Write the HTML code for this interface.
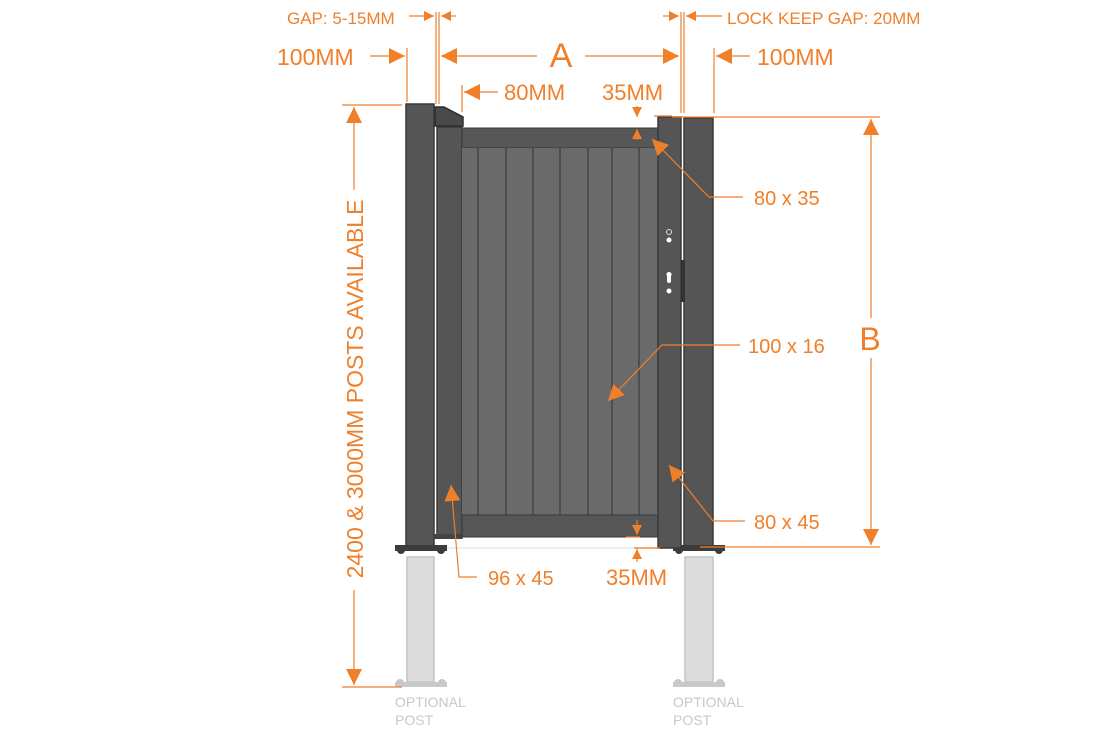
<!DOCTYPE html>
<html><head><meta charset="utf-8"><style>
html,body{margin:0;padding:0;background:#fff;}
svg{display:block;}
text{font-family:"Liberation Sans",sans-serif;fill:#f07f2a;}
</style></head><body>
<svg width="1120" height="730" viewBox="0 0 1120 730" xmlns="http://www.w3.org/2000/svg">
<defs>
<marker id="ar" viewBox="0 0 10 10" refX="10" refY="5" markerWidth="10" markerHeight="10" orient="auto-start-reverse" markerUnits="userSpaceOnUse"><path d="M0,0 L10,5 L0,10 z" fill="#f07f2a"/></marker>
<marker id="ar2" viewBox="0 0 10 10" refX="10" refY="5" markerWidth="16" markerHeight="16" orient="auto-start-reverse" markerUnits="userSpaceOnUse"><path d="M0,0 L10,5 L0,10 z" fill="#f07f2a"/></marker>
</defs>
<g fill="#dcdcdc" stroke="#c4c4c4" stroke-width="1.5">
<rect x="407" y="557" width="27" height="125"/>
<rect x="685" y="557" width="28" height="125"/>
</g>
<g fill="#c8c8c8">
<rect x="395" y="682" width="52" height="5"/><circle cx="400" cy="683" r="4"/><circle cx="442" cy="683" r="4"/>
<rect x="673" y="682" width="52" height="5"/><circle cx="678" cy="683" r="4"/><circle cx="720" cy="683" r="4"/>
</g>
<line x1="440" y1="548" x2="680" y2="548" stroke="#eee" stroke-width="2"/>
<g fill="#555" stroke="#3a3a3a" stroke-width="1.5">
<rect x="406" y="104" width="28" height="443"/>
<rect x="684" y="118" width="29" height="429"/>
</g>
<g fill="#3c3c3c">
<rect x="395" y="545" width="52" height="6"/><circle cx="401" cy="550" r="4"/><circle cx="441" cy="550" r="4"/>
<rect x="673" y="545" width="52" height="6"/><circle cx="679" cy="550" r="4"/><circle cx="719" cy="550" r="4"/>
</g>
<rect x="437" y="127" width="25" height="411" fill="#555" stroke="#3a3a3a" stroke-width="1.5"/>
<rect x="434" y="534" width="28" height="5" fill="#444"/>
<path d="M435,107 L444,107 L463,117 L463,126 L435,126 Z" fill="#4a4a4a" stroke="#2e2e2e" stroke-width="1.5"/>
<rect x="462" y="128" width="196" height="20" fill="#575757" stroke="#3a3a3a" stroke-width="1"/>
<rect x="462" y="148" width="196" height="367" fill="#6a6a6a"/>
<g stroke="#454545" stroke-width="1.5">
<line x1="478" y1="148" x2="478" y2="515"/><line x1="506" y1="148" x2="506" y2="515"/><line x1="533" y1="148" x2="533" y2="515"/><line x1="560" y1="148" x2="560" y2="515"/><line x1="588" y1="148" x2="588" y2="515"/><line x1="612" y1="148" x2="612" y2="515"/><line x1="639" y1="148" x2="639" y2="515"/>
</g>
<rect x="462" y="515" width="196" height="22" fill="#575757" stroke="#3a3a3a" stroke-width="1"/>
<rect x="658" y="117" width="23" height="431" fill="#555" stroke="#3a3a3a" stroke-width="1.5"/>
<rect x="681" y="260" width="4" height="42" fill="#333"/>
<circle cx="669" cy="232" r="2.5" fill="none" stroke="#ddd" stroke-width="1"/>
<circle cx="669" cy="240" r="2.5" fill="#fff"/>
<path d="M667,276 a2.5,2.5 0 1 1 4,0 l0,5 a2,2 0 0 1 -4,0 z" fill="#fff"/>
<circle cx="669" cy="291" r="2.5" fill="#fff"/>

<g stroke="#f07f2a" stroke-width="1.2" fill="none">
<line x1="407" y1="48" x2="407" y2="102"/>
<line x1="436" y1="12" x2="436" y2="104"/>
<line x1="439" y1="12" x2="439" y2="104"/>
<line x1="462" y1="85" x2="462" y2="112"/>
<line x1="681" y1="12" x2="681" y2="113"/>
<line x1="684" y1="12" x2="684" y2="113"/>
<line x1="714" y1="48" x2="714" y2="113"/>
<line x1="342" y1="105" x2="402" y2="105"/>
<line x1="342" y1="687" x2="402" y2="687"/>
<line x1="672" y1="117" x2="880" y2="117"/>
<line x1="700" y1="547" x2="880" y2="547"/>
<line x1="654" y1="116" x2="672" y2="116"/>
<line x1="626" y1="537" x2="640" y2="537"/>
<line x1="634" y1="548" x2="660" y2="548"/>
<line x1="409" y1="16" x2="434" y2="16" marker-end="url(#ar)"/>
<line x1="456" y1="16" x2="441" y2="16" marker-end="url(#ar)"/>
<line x1="663" y1="16" x2="679" y2="16" marker-end="url(#ar)"/>
<line x1="722" y1="16" x2="686" y2="16" marker-end="url(#ar)"/>
<line x1="370" y1="56" x2="405" y2="56" marker-end="url(#ar2)"/>
<line x1="750" y1="56" x2="716" y2="56" marker-end="url(#ar2)"/>
<line x1="537" y1="56" x2="441" y2="56" marker-end="url(#ar2)"/>
<line x1="585" y1="56" x2="679" y2="56" marker-end="url(#ar2)"/>
<line x1="498" y1="92" x2="464" y2="92" marker-end="url(#ar2)"/>
<line x1="637" y1="106" x2="637" y2="117" marker-end="url(#ar)"/>
<line x1="637" y1="140" x2="637" y2="129" marker-end="url(#ar)"/>
<line x1="637" y1="520" x2="637" y2="535" marker-end="url(#ar)"/>
<line x1="637" y1="562" x2="637" y2="549" marker-end="url(#ar)"/>
<line x1="871" y1="318" x2="871" y2="119" marker-end="url(#ar2)"/>
<line x1="871" y1="358" x2="871" y2="545" marker-end="url(#ar2)"/>
<line x1="354" y1="190" x2="354" y2="107" marker-end="url(#ar2)"/>
<line x1="354" y1="590" x2="354" y2="685" marker-end="url(#ar2)"/>
<polyline points="743,197 709,197 652,139" marker-end="url(#ar2)"/>
<polyline points="740,345 662,345 608,401" marker-end="url(#ar2)"/>
<polyline points="745,521 713,521 669,465" marker-end="url(#ar2)"/>
<polyline points="477,577 459,577 451,485" marker-end="url(#ar2)"/>
</g>
<text x="287" y="24" font-size="17">GAP: 5-15MM</text>
<text x="727" y="24" font-size="17">LOCK KEEP GAP: 20MM</text>
<text x="277" y="65" font-size="23">100MM</text>
<text x="757" y="65" font-size="23">100MM</text>
<text x="561" y="67" font-size="34" text-anchor="middle">A</text>
<text x="504" y="100" font-size="22">80MM</text>
<text x="602" y="100" font-size="22">35MM</text>
<text x="754" y="205" font-size="20">80 x 35</text>
<text x="748" y="353" font-size="20">100 x 16</text>
<text x="754" y="529" font-size="20">80 x 45</text>
<text x="488" y="585" font-size="20">96 x 45</text>
<text x="606" y="585" font-size="22">35MM</text>
<text x="870" y="350" font-size="32" text-anchor="middle">B</text>
<text x="0" y="0" font-size="23" text-anchor="middle" transform="translate(363,389) rotate(-90)">2400 &amp; 3000MM POSTS AVAILABLE</text>
<g font-size="14">
<text x="395" y="707" style="fill:#c8c8c8">OPTIONAL</text><text x="395" y="725" style="fill:#c8c8c8">POST</text>
<text x="673" y="707" style="fill:#c8c8c8">OPTIONAL</text><text x="673" y="725" style="fill:#c8c8c8">POST</text>
</g>
</svg>
</body></html>
